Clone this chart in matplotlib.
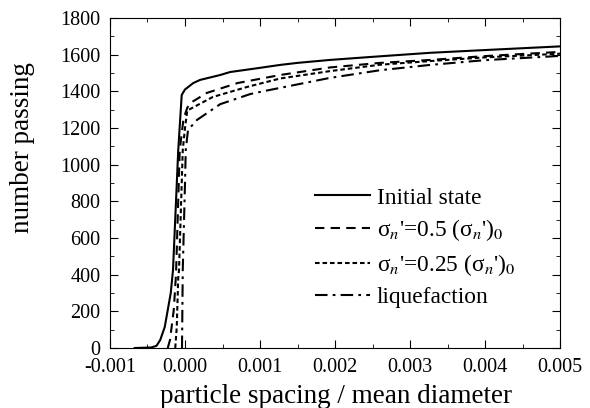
import numpy as np
import matplotlib
matplotlib.use('Agg')
import matplotlib.pyplot as plt
from matplotlib.ticker import MultipleLocator, FormatStrFormatter

plt.rcParams['font.family'] = ['Liberation Serif', 'DejaVu Serif']
plt.rcParams['mathtext.fontset'] = 'stix'
plt.rcParams['axes.unicode_minus'] = False

# Initial state (solid)
x_init = [-0.00067, -0.00045, -0.00038, -0.00033, -0.00027, -0.00023, -0.00019, -0.00016,
          -0.00009, -0.000044, 0.0, 0.00011, 0.0002, 0.00047, 0.0006, 0.001, 0.00127,
          0.0015, 0.00193, 0.0025, 0.00327, 0.004, 0.005]
y_init = [0, 3, 12, 44, 115, 207, 300, 425, 1080, 1380, 1410, 1445, 1462, 1489, 1505,
          1528, 1544, 1555, 1571, 1588, 1610, 1625, 1645]

# sigma_n' = 0.5 (sigma_n')_0 (dashed)
x_half = [-0.00023, -0.0002, -0.00015, -0.00012, -0.00007, -0.00002, 0.00003, 0.00007,
          0.00029, 0.0007, 0.00127, 0.00193, 0.0026, 0.00327, 0.004, 0.005]
y_half = [0, 44, 207, 400, 1080, 1250, 1310, 1336, 1391, 1445, 1489, 1530, 1555, 1571,
          1592, 1615]

# sigma_n' = 0.25 (sigma_n')_0 (dotted)
x_quarter = [-0.00013, -0.00011, -0.00009, -0.00008, -0.00003, 0.0, 0.00003, 0.00037,
             0.00083, 0.00127, 0.00193, 0.0026, 0.00327, 0.004, 0.005]
y_quarter = [0, 115, 387, 425, 1080, 1200, 1295, 1369, 1424, 1470, 1510, 1545, 1565,
             1585, 1605]

# liquefaction (dash-dot)
x_liq = [-0.00004, -0.00003, 0.0, 0.00001, 0.00004, 0.00016, 0.00047, 0.00087, 0.00104,
         0.00193, 0.0026, 0.00327, 0.004, 0.005]
y_liq = [0, 425, 900, 1080, 1189, 1244, 1330, 1385, 1400, 1473, 1515, 1544, 1570, 1593]

labels = ['Initial state',
          "σ$_n$'=0.5 (σ$_n$')$_0$",
          "σ$_n$'=0.25 (σ$_n$')$_0$",
          'liquefaction']

fig = plt.figure(figsize=(5.9, 4.08), dpi=100)
ax = fig.add_axes([0.1864, 0.147, 0.763, 0.809])

ax.plot(x_init, y_init, color='k', lw=1.5, ls='-', label=labels[0])
ax.plot(x_half, y_half, color='k', lw=1.5, ls=(0, (4.5, 3)), label=labels[1])
ax.plot(x_quarter, y_quarter, color='k', lw=1.5, ls=(0, (2.2, 1.4)), label=labels[2])
ax.plot(x_liq, y_liq, color='k', lw=1.5, ls=(0, (6, 2.5, 1.3, 2.5)), label=labels[3])

ax.set_xlim(-0.001, 0.005)
ax.set_ylim(0, 1800)
ax.xaxis.set_major_locator(MultipleLocator(0.001))
ax.xaxis.set_minor_locator(MultipleLocator(0.0005))
ax.xaxis.set_major_formatter(FormatStrFormatter('%.3f'))
ax.yaxis.set_major_locator(MultipleLocator(200))
ax.yaxis.set_minor_locator(MultipleLocator(100))
ax.tick_params(which='both', direction='in', top=True, right=True, labelsize=14.5)
ax.tick_params(which='major', length=6)
ax.tick_params(which='minor', length=3)
ax.tick_params(axis='x', pad=7)
ax.tick_params(axis='y', pad=7)

ax.set_xlabel('particle spacing / mean diameter', fontsize=19.5)
ax.xaxis.set_label_coords(0.502, -0.11)
fig.text(23 / 590, 1 - 148 / 408, 'number passing', fontsize=19.5, rotation=90,
         ha='center', va='center')

ax.legend(loc='center left', bbox_to_anchor=(0.4556, 0.3045), frameon=False, fontsize=16.8,
          borderpad=0, borderaxespad=0,
          handlelength=2.35, handletextpad=0.3, labelspacing=0.37)

fig.savefig('out.png', dpi=100)
